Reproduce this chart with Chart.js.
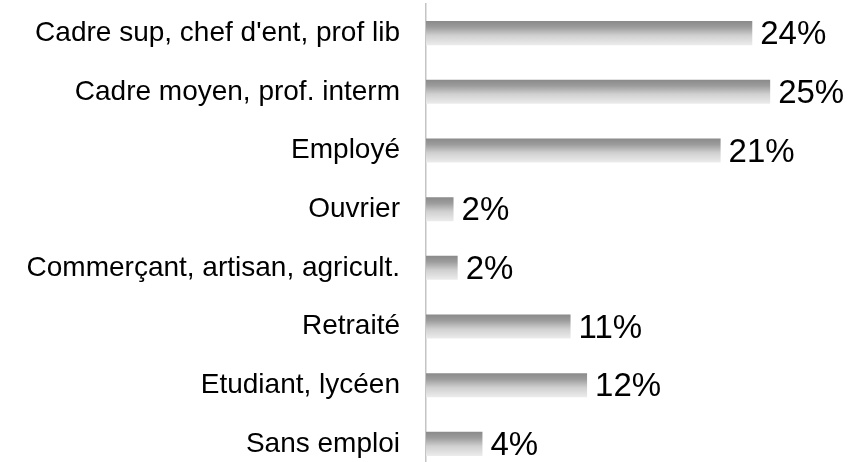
<!DOCTYPE html>
<html>
<head>
<meta charset="utf-8">
<script src="https://cdn.jsdelivr.net/npm/chart.js@4"></script>
<style>
  html, body { margin: 0; padding: 0; background: #fff; overflow: hidden; }
  #wrap { width: 850px; height: 462px; overflow: hidden; }
  #grafico { display: block; margin-top: -13px; }
</style>
</head>
<body>
<div id="wrap">
  <canvas id="grafico" width="850" height="503"></canvas>
</div>
<script>
const categorias = [
  'Cadre sup, chef d\'ent, prof lib',
  'Cadre moyen, prof. interm',
  'Employé',
  'Ouvrier',
  'Commerçant, artisan, agricult.',
  'Retraité',
  'Etudiant, lycéen',
  'Sans emploi'
];
const valores = [23.7, 25.0, 21.4, 2.0, 2.3, 10.5, 11.7, 4.1];
const rotulos = ['24%', '25%', '21%', '2%', '2%', '11%', '12%', '4%'];

// degradê vertical de cada barra
function corBarra(ctx) {
  const chart = ctx.chart;
  const escalaY = chart.scales.y;
  if (!escalaY || !chart.chartArea) return '#b0b0b0';
  const centro = escalaY.getPixelForValue(ctx.dataIndex);
  const g = chart.ctx.createLinearGradient(0, centro - 12, 0, centro + 12);
  g.addColorStop(0, '#8a8a8a');
  g.addColorStop(0.25, '#9c9c9c');
  g.addColorStop(0.6, '#d0d0d0');
  g.addColorStop(1, '#ececec');
  return g;
}

// rótulos de valor à direita das barras
const rotuloValor = {
  id: 'rotuloValor',
  afterDatasetsDraw(chart) {
    const c = chart.ctx;
    c.save();
    c.font = '33px "Liberation Sans", Arial, sans-serif';
    c.fillStyle = '#000';
    c.textAlign = 'left';
    c.textBaseline = 'middle';
    chart.getDatasetMeta(0).data.forEach((el, i) => {
      c.fillText(rotulos[i], el.x + 8, el.y + 2);
    });
    c.restore();
  }
};

new Chart(document.getElementById('grafico'), {
  type: 'bar',
  data: {
    labels: categorias,
    datasets: [{
      data: valores,
      backgroundColor: corBarra,
      borderWidth: 0,
      barPercentage: 0.41,
      categoryPercentage: 1
    }]
  },
  options: {
    indexAxis: 'y',
    responsive: false,
    animation: false,
    layout: { padding: { top: 0, bottom: 0, left: 0, right: 11 } },
    plugins: { legend: { display: false }, tooltip: { enabled: false } },
    scales: {
      x: { display: false, min: 0, max: 30 },
      y: {
        afterFit(scale) { scale.width = 426; },
        grid: { display: false, drawTicks: true, tickLength: 26 },
        border: { display: true, color: '#c4c4c4', width: 1.5 },
        ticks: {
          padding: 0,
          color: '#000',
          font: { family: '"Liberation Sans", Arial, sans-serif', size: 28 }
        }
      }
    }
  },
  plugins: [rotuloValor]
});
</script>
</body>
</html>
